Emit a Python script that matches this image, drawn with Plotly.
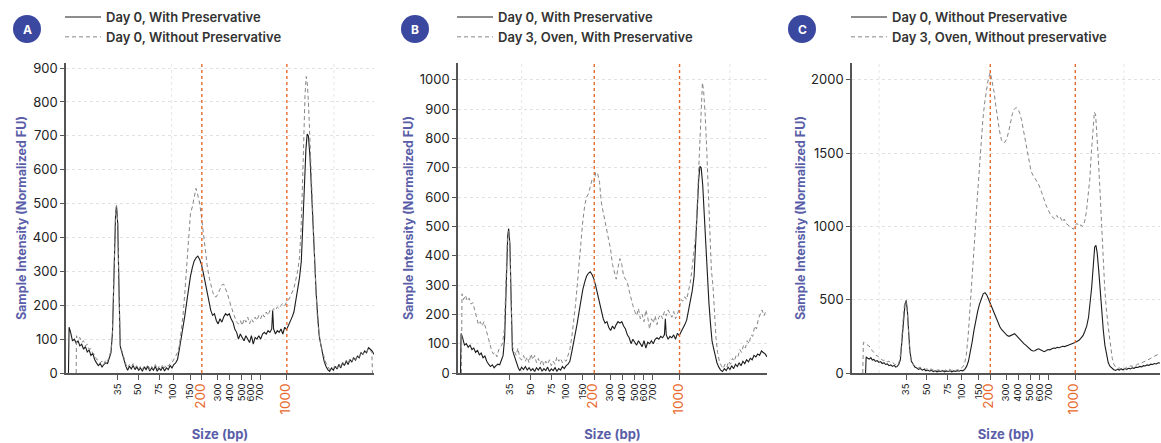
import plotly.graph_objects as go

# ---------------- data ----------------
# x positions are electropherogram migration positions (0-100 along the axis);
# tick positions map them to fragment sizes in bp
tick_pos = [16.8, 23.5, 30.3, 34.8, 40.3, 44.1, 49.3, 53.2, 57.1, 60.1, 63.0, 71.7]
tick_bp = ["35", "50", "75", "100", "150", "200", "300", "400", "500", "600", "700", "1000"]
marker_bp = ["200", "1000"]

day0_with = [(0.8,0),(1.0,135),(1.5,120),(2.1,95),(2.7,100),(3.3,88),(3.9,95),(4.5,80),(5.1,85),(5.7,70),(6.3,78),(6.9,62),(7.5,68),(8.1,52),(8.7,58),(9.3,40),(9.9,30),(10.5,22),(11.1,28),(11.7,18),(12.3,25),(12.9,30),(13.5,28),(14.1,45),
    (14.6,60),(15.1,120),(15.6,300),(16.1,470),(16.4,492),(16.8,440),(17.2,250),(17.6,80),(18.0,65),(18.5,50),(19.0,30),(19.5,18),(20.0,8),
    (20.6,20),(21.2,12),(21.8,22),(22.4,10),(23.0,18),(23.6,8),(24.2,15),(24.8,5),(25.4,18),(26.0,10),(26.6,20),(27.2,6),(27.8,15),(28.4,8),(29.0,20),(29.6,5),(30.2,14),(30.8,8),(31.4,18),(32.0,6),(32.6,15),(33.2,10),(33.8,22),(34.4,15),(35.0,25),(35.6,30),
    (36.2,40),(36.8,70),(37.4,100),(38.0,135),(38.6,170),(39.2,210),(39.8,250),(40.4,285),(41.0,310),(41.6,330),(42.2,340),(42.8,345),(43.4,335),(44.0,320),(44.6,295),(45.2,265),(45.8,235),(46.4,210),(47.0,185),(47.6,170),(48.2,175),(48.8,155),(49.4,145),(50.0,160),(50.6,150),(51.2,165),
    (51.8,175),(52.4,170),(53.0,175),(53.6,160),(54.2,150),(54.8,130),(55.4,120),(56.0,100),(56.6,115),(57.2,105),(57.8,95),(58.4,110),(59.0,100),(59.6,90),(60.2,110),(60.8,85),(61.4,105),(62.0,100),(62.6,110),(63.2,100),(63.8,115),(64.4,120),(65.0,115),(65.6,125),(66.2,120),(66.8,130),
    (67.1,185),(67.4,130),(68.0,115),(68.6,125),(69.2,120),(69.8,130),(70.4,115),(71.0,135),(71.6,128),(72.2,140),(72.8,150),(73.4,165),(74.0,180),(74.6,210),(75.2,240),(75.8,280),(76.4,330),
    (76.9,420),(77.4,550),(77.9,660),(78.3,705),(78.7,700),(79.2,640),(79.7,540),(80.2,430),(80.7,330),(81.2,240),(81.7,170),(82.2,110),(82.7,85),(83.2,60),
    (83.8,35),(84.4,20),(85.0,10),(85.6,5),(86.2,15),(86.8,8),(87.4,20),(88.0,12),(88.6,25),(89.2,15),(89.8,30),(90.4,22),(91.0,35),(91.6,25),(92.2,40),(92.8,32),(93.4,45),(94.0,38),(94.6,50),(95.2,45),(95.8,60),(96.4,55),(97.0,65),(97.6,60),(98.2,75),(98.8,70),(99.4,65),(100.0,55)]

day0_without = [(3.3,0),(3.4,110),(3.9,100),(4.5,105),(5.1,90),(5.7,95),(6.3,80),(6.9,85),(7.5,70),(8.1,72),(8.7,58),(9.3,55),(9.9,40),(10.5,38),(11.1,30),(11.7,35),(12.3,25),(12.9,40),(13.5,35),(14.1,50),
    (14.6,65),(15.1,125),(15.6,310),(16.1,475),(16.4,495),(16.8,445),(17.2,255),(17.6,85),(18.0,70),(18.5,55),(19.0,35),(19.5,25),(20.0,15),
    (20.6,25),(21.2,18),(21.8,28),(22.4,15),(23.0,22),(23.6,12),(24.2,20),(24.8,10),(25.4,22),(26.0,15),(26.6,25),(27.2,10),(27.8,20),(28.4,12),(29.0,25),(29.6,10),(30.2,20),(30.8,12),(31.4,25),(32.0,15),(32.6,25),(33.2,20),(33.8,28),(34.4,30),(35.0,40),(35.6,50),
    (36.2,60),(36.8,80),(37.4,120),(38.0,170),(38.6,240),(39.2,320),(39.8,420),(40.4,470),(41.0,490),(41.6,520),(42.2,545),(42.8,525),(43.4,500),(44.0,460),(44.6,410),(45.2,360),(45.8,320),(46.4,285),(47.0,260),(47.6,240),(48.2,225),(48.8,225),(49.4,235),(50.0,250),(50.6,260),(51.2,262),
    (51.8,250),(52.4,235),(53.0,215),(53.6,195),(54.2,180),(54.8,165),(55.4,150),(56.0,145),(56.6,155),(57.2,140),(57.8,160),(58.4,150),(59.0,165),(59.6,145),(60.2,160),(60.8,150),(61.4,165),(62.0,155),(62.6,170),(63.2,160),(63.8,175),(64.4,165),(65.0,180),(65.6,170),(66.2,185),(66.8,180),
    (67.4,190),(68.0,185),(68.6,195),(69.2,190),(69.8,200),(70.4,205),(71.0,198),(71.6,210),(72.2,215),(72.8,225),(73.4,240),(74.0,250),(74.6,275),(75.2,300),(75.8,340),
    (76.3,420),(76.8,560),(77.2,700),(77.6,820),(78.0,875),(78.4,850),(78.8,780),(79.2,680),(79.7,560),(80.2,440),(80.7,330),(81.2,230),(81.7,150),(82.2,110),(82.7,85),(83.2,65),
    (83.8,45),(84.4,30),(85.0,20),(85.6,10),(86.2,18),(86.8,12),(87.4,22),(88.0,15),(88.6,28),(89.2,18),(89.8,32),(90.4,25),(91.0,38),(91.6,28),(92.2,42),(92.8,35),(93.4,48),(94.0,40),(94.6,52),(95.2,48),(95.8,62),(96.4,55),(97.0,65),(97.6,62),(98.2,72),(98.8,68),(99.3,60),(99.5,0)]

day3_oven_with = [(1.1,0),(1.3,270),(1.8,250),(2.4,265),(3.0,245),(3.6,255),(4.2,235),(4.8,240),(5.4,215),(6.0,190),(6.6,165),(7.2,175),(7.8,160),(8.4,175),(9.0,150),(9.6,120),(10.2,95),(10.8,80),(11.4,65),(12.0,70),(12.6,55),(13.2,80),(13.8,90),
    (14.4,100),(15.0,150),(15.5,320),(16.0,460),(16.4,485),(16.8,430),(17.2,240),(17.6,90),(18.2,75),(18.8,60),(19.4,85),(20.0,50),(20.6,45),(21.2,60),(21.8,40),(22.4,55),(23.0,35),(23.6,65),(24.2,45),(24.8,60),(25.4,35),(26.0,50),(26.6,30),(27.2,45),(27.8,25),(28.4,40),(29.0,30),(29.6,45),(30.2,25),(30.8,40),(31.4,30),(32.0,55),(32.6,40),(33.2,50),(33.8,35),(34.4,45),(35.0,40),(35.6,60),
    (36.2,80),(36.8,120),(37.4,170),(38.0,230),(38.6,300),(39.2,380),(39.8,450),(40.4,520),(41.0,570),(41.6,600),(42.2,610),(42.8,640),(43.4,660),(44.0,650),(44.6,685),(45.2,680),(45.8,650),(46.4,580),(47.0,550),(47.6,520),(48.2,480),(48.8,450),(49.4,420),(50.0,370),(50.6,340),(51.2,320),(51.8,360),(52.4,390),(53.0,370),(53.6,330),(54.2,320),(54.8,310),(55.4,280),(56.0,250),(56.6,230),(57.2,210),(57.8,195),(58.4,220),(59.0,185),(59.6,200),(60.2,175),(60.8,215),(61.4,190),(62.0,150),(62.6,185),(63.2,170),(63.8,195),(64.4,165),(65.0,190),(65.6,200),(66.2,185),(66.8,210),(67.4,195),(68.0,215),(68.6,200),(69.2,190),(69.8,210),(70.4,185),(71.0,200),(71.6,220),(72.2,250),(72.8,245),(73.4,260),(74.0,250),(74.6,280),(75.2,310),(75.8,360),(76.4,420),(77.0,480),(77.6,620),(78.2,780),(78.7,920),(79.1,990),(79.5,960),(80.0,880),(80.5,760),(81.0,620),(81.5,480),(82.0,350),(82.5,300),(83.0,200),(83.5,120),(84.0,70),(84.6,40),(85.2,25),(85.8,15),(86.4,30),(87.0,20),(87.6,40),(88.2,30),(88.8,50),(89.4,40),(90.0,60),(90.6,55),(91.2,80),(91.8,70),(92.4,95),(93.0,85),(93.6,110),(94.2,100),(94.8,130),(95.4,125),(96.0,160),(96.6,150),(97.2,185),(97.8,200),(98.4,215),(99.0,195),(99.6,210),(100.0,205)]

day0_without_c = [(3.6,0),(3.8,110),(4.3,100),(4.8,95),(5.3,105),(5.8,88),(6.3,92),(6.8,80),(7.4,85),(7.9,72),(8.5,78),(9.0,65),(9.6,70),(10.1,58),(10.7,62),(11.2,50),(11.8,55),(12.3,45),(12.9,52),(13.4,40),(13.9,45),(14.4,60),(14.9,90),(15.4,200),(15.9,350),(16.4,470),(16.8,495),(17.2,420),(17.6,280),(18.0,150),(18.5,80),(19.0,60),(19.6,40),(20.2,35),(20.8,25),(21.4,30),(22.0,20),(22.6,25),(23.2,15),(23.8,20),(24.4,12),(25.0,18),(25.6,10),(26.2,15),(26.8,8),(27.4,14),(28.0,10),(28.6,16),(29.2,8),(29.8,14),(30.4,10),(31.0,15),(31.6,8),(32.2,14),(32.8,10),(33.4,16),(34.0,12),(34.6,18),(35.2,15),(35.8,25),(36.4,45),(37.0,80),(37.6,140),(38.2,210),(38.8,290),(39.4,360),(40.0,420),(40.6,470),(41.2,510),(41.8,540),(42.4,548),(43.0,530),(43.6,500),(44.2,470),(44.8,430),(45.4,400),(46.0,370),(46.6,340),(47.2,315),(47.8,295),(48.4,280),(49.0,265),(49.6,255),(50.2,250),(50.8,255),(51.4,265),(52.0,268),(52.6,255),(53.2,240),(53.8,225),(54.4,210),(55.0,200),(55.6,190),(56.2,178),(56.8,165),(57.4,155),(58.0,150),(58.6,152),(59.2,160),(59.8,165),(60.4,158),(61.0,150),(61.6,145),(62.2,152),(62.8,160),(63.4,158),(64.0,165),(64.6,170),(65.2,168),(65.8,175),(66.4,172),(67.0,178),(67.6,182),(68.2,180),(68.8,188),(69.4,190),(70.0,195),(70.6,198),(71.2,205),(71.8,210),(72.4,215),(73.0,225),(73.6,240),(74.2,255),(74.8,285),(75.4,320),(76.0,380),(76.5,470),(77.0,580),(77.5,720),(78.0,860),(78.4,870),(78.8,820),(79.3,700),(79.8,550),(80.3,400),(80.8,290),(81.3,190),(81.8,120),(82.4,70),(83.0,45),(83.6,30),(84.2,22),(84.8,18),(85.4,25),(86.0,20),(86.6,28),(87.2,22),(87.8,30),(88.4,25),(89.0,32),(89.6,28),(90.2,35),(90.8,32),(91.4,40),(92.0,38),(92.6,45),(93.2,42),(93.8,50),(94.4,48),(95.0,55),(95.6,52),(96.2,60),(96.8,58),(97.4,65),(98.0,62),(98.6,70),(99.2,68),(99.8,75),(100.2,72)]

day3_oven_without = [(2.7,0),(2.9,210),(3.4,205),(4.0,195),(4.6,180),(5.2,175),(5.8,150),(6.4,140),(7.0,120),(7.6,115),(8.2,100),(8.8,95),(9.4,85),(10.0,90),(10.6,75),(11.2,80),(11.8,68),(12.4,72),(13.0,60),(13.6,55),(14.2,60),(14.7,90),(15.2,180),(15.7,340),(16.2,460),(16.7,490),(17.1,430),(17.5,300),(17.9,160),(18.4,90),(18.9,65),(19.5,50),(20.1,45),(20.7,35),(21.3,40),(21.9,30),(22.5,35),(23.1,25),(23.7,30),(24.3,22),(24.9,28),(25.5,20),(26.1,25),(26.7,18),(27.3,22),(27.9,15),(28.5,20),(29.1,15),(29.7,22),(30.3,18),(30.9,25),(31.5,18),(32.1,22),(32.7,15),(33.3,22),(33.9,20),(34.5,30),(35.1,40),(35.7,60),(36.3,120),(36.9,250),(37.5,420),(38.1,600),(38.7,800),(39.3,1000),(39.9,1200),(40.5,1400),(41.1,1580),(41.7,1730),(42.3,1850),(42.9,1950),(43.5,2010),(44.1,2050),(44.7,1990),(45.3,1920),(45.9,1820),(46.5,1720),(47.1,1650),(47.7,1590),(48.3,1570),(48.9,1575),(49.5,1600),(50.1,1650),(50.7,1720),(51.3,1770),(51.9,1800),(52.5,1810),(53.1,1800),(53.7,1770),(54.3,1720),(54.9,1650),(55.5,1570),(56.1,1500),(56.7,1440),(57.3,1380),(57.9,1350),(58.5,1330),(59.1,1310),(59.7,1290),(60.3,1260),(60.9,1220),(61.5,1190),(62.1,1150),(62.7,1120),(63.3,1090),(63.9,1070),(64.5,1060),(65.1,1050),(65.7,1075),(66.3,1050),(66.9,1060),(67.5,1030),(68.1,1050),(68.7,1020),(69.3,1010),(69.9,1000),(70.5,985),(71.1,980),(71.7,1010),(72.3,1020),(72.9,1000),(73.5,1010),(74.1,1000),(74.7,1030),(75.3,1100),(75.9,1200),(76.4,1320),(76.9,1500),(77.4,1650),(77.9,1780),(78.3,1760),(78.7,1650),(79.2,1450),(79.7,1250),(80.2,1000),(80.7,780),(81.2,600),(81.7,450),(82.2,330),(82.7,260),(83.2,180),(83.7,100),(84.2,60),(84.8,40),(85.4,30),(86.0,35),(86.6,25),(87.2,35),(87.8,30),(88.4,40),(89.0,38),(89.6,48),(90.2,45),(90.8,55),(91.4,52),(92.0,62),(92.6,60),(93.2,70),(93.8,75),(94.4,80),(95.0,85),(95.6,95),(96.2,100),(96.8,108),(97.4,115),(98.0,120),(98.6,130),(99.2,135),(99.8,140),(100.2,145)]

# ---------------- styling ----------------
W, H = 1161, 443
FONT = "Inter"
SOLID = "#1c1c1c"
DASHED = "#858585"
ORANGE = "#e8692e"
TITLE_BLUE = "#5a5ea8"
BADGE = "#3b48a0"
PLOT_TOP, PLOT_BOTTOM = 63, 373

panels = [
    dict(letter="A", solid=day0_with, dashed=day0_without,
         solid_name="Day 0, With Preservative", dashed_name="Day 0, Without Preservative",
         x0=66, x1=374, xr=(0, 100), ymax=915, dtick=100, badge=27, vgrid=[34.3, 87.0]),
    dict(letter="B", solid=day0_with, dashed=day3_oven_with,
         solid_name="Day 0, With Preservative", dashed_name="Day 3, Oven, With Preservative",
         x0=458, x1=767, xr=(0, 100), ymax=1057, dtick=100, badge=415, vgrid=[20.6, 88.0]),
    dict(letter="C", solid=day0_without_c, dashed=day3_oven_without,
         solid_name="Day 0, Without Preservative", dashed_name="Day 3, Oven, Without preservative",
         x0=852, x1=1160, xr=(-0.8, 99.2), ymax=2114, dtick=500, badge=802, vgrid=[8.0, 87.5]),
]

ticktext = [f"<span style='color:{ORANGE};font-size:13.5px'>{t}</span>" if t in marker_bp else t
            for t in tick_bp]

fig = go.Figure()
shapes, annotations = [], []
ydom = [(H - PLOT_BOTTOM) / H, (H - PLOT_TOP) / H]

for i, p in enumerate(panels):
    n = "" if i == 0 else str(i + 1)
    xa, ya = "x" + n, "y" + n
    leg = "legend" + n
    sx, sy = zip(*p["solid"])
    dx, dy = zip(*p["dashed"])
    fig.add_trace(go.Scatter(x=sx, y=sy, mode="lines", name=p["solid_name"], xaxis=xa, yaxis=ya,
                             legend=leg, line=dict(color=SOLID, width=1.1)))
    fig.add_trace(go.Scatter(x=dx, y=dy, mode="lines", name=p["dashed_name"], xaxis=xa, yaxis=ya,
                             legend=leg, line=dict(color=DASHED, width=1, dash="4px,3px")))

    fig.update_layout({
        "xaxis" + n: dict(domain=[p["x0"] / W, p["x1"] / W], range=list(p["xr"]), anchor=ya,
                          tickmode="array", tickvals=tick_pos, ticktext=ticktext, tickangle=-90,
                          ticks="outside", ticklen=5, tickcolor="#555", showline=True,
                          linecolor="#555", linewidth=1.5, showgrid=False, zeroline=False,
                          tickfont=dict(family=FONT, size=9.5, color="#222"),
                          title=dict(text="<b>Size (bp)</b>", standoff=16,
                                     font=dict(family=FONT, size=13, color=TITLE_BLUE)),
                          automargin=False),
        "yaxis" + n: dict(domain=ydom, range=[0, p["ymax"]], anchor=xa, dtick=p["dtick"],
                          ticks="outside", ticklen=4, tickcolor="#555", showline=True,
                          linecolor="#555", linewidth=1.5, showgrid=True, gridcolor="#e2e2e2",
                          griddash="dot", zeroline=False,
                          tickfont=dict(family=FONT, size=13, color="#222"),
                          title=dict(text="<b>Sample Intensity (Normalized FU)</b>", standoff=3,
                                     font=dict(family=FONT, size=12.5, color=TITLE_BLUE)),
                          automargin=False),
        leg: dict(x=(p["x0"] - 6) / W, y=1 - 2 / H, xanchor="left", yanchor="top",
                  bgcolor="rgba(0,0,0,0)", itemwidth=36,
                  font=dict(family=FONT, size=13, color="#333", weight=600)),
    })

    # faint vertical gridlines
    for g in p["vgrid"]:
        shapes.append(dict(type="line", xref=xa, yref=ya + " domain", x0=g, x1=g, y0=0, y1=1,
                           line=dict(color="#e6e6e6", width=1, dash="dot"), layer="below"))
    # orange reference lines at 200 and 1000 bp
    for t in marker_bp:
        xp = tick_pos[tick_bp.index(t)]
        shapes.append(dict(type="line", xref=xa, yref=ya + " domain", x0=xp, x1=xp, y0=0, y1=1,
                           line=dict(color=ORANGE, width=1.4, dash="dot"), layer="above"))
    # panel badge
    bx = p["badge"]
    shapes.append(dict(type="circle", xref="paper", yref="paper",
                       x0=(bx - 14) / W, x1=(bx + 14) / W, y0=1 - 43 / H, y1=1 - 15 / H,
                       fillcolor=BADGE, line=dict(width=0)))
    annotations.append(dict(text=f"<b>{p['letter']}</b>", xref="paper", yref="paper",
                            x=bx / W, y=1 - 29 / H, xanchor="center", yanchor="middle",
                            showarrow=False,
                            font=dict(family=FONT, size=12, color="white")))

fig.update_layout(width=W, height=H, margin=dict(l=0, r=0, t=0, b=0),
                  paper_bgcolor="white", plot_bgcolor="white",
                  shapes=shapes, annotations=annotations, showlegend=True)

fig.write_html("out.html")
